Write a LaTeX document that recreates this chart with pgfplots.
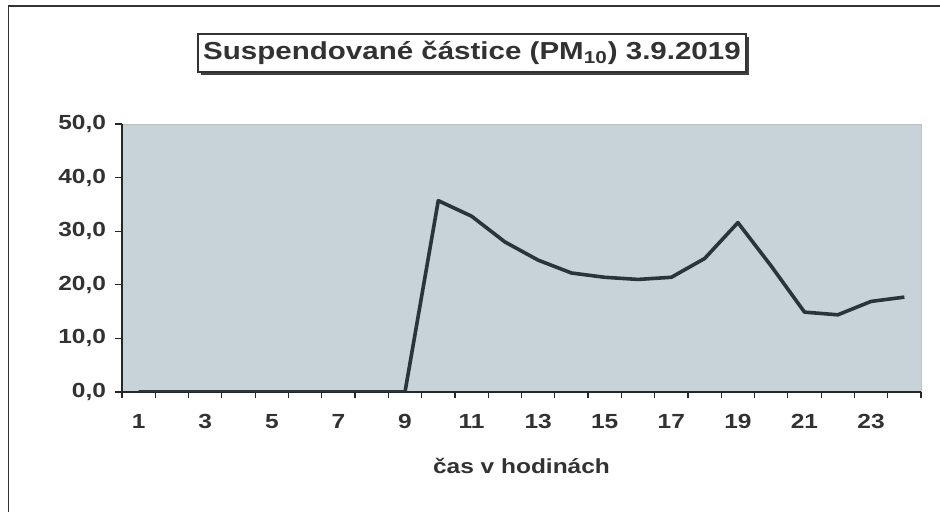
\documentclass[border=0pt]{standalone}
\usepackage{fontspec}
\setmainfont{Liberation Sans}[FakeStretch=1.2]
\usepackage{pgfplots}
\pgfplotsset{compat=1.18}
\usetikzlibrary{shadows}
\definecolor{plotbg}{RGB}{199,211,217}
\definecolor{linec}{RGB}{42,52,58}
\definecolor{txt}{RGB}{50,50,50}
\begin{document}
\begin{tikzpicture}
\useasboundingbox (0,0) rectangle (470pt,256pt);
\fill[white] (0,0) rectangle (470pt,256pt);
\draw[black!80, line width=0.8pt] (4.25pt,0) -- (4.25pt,253pt) -- (470pt,253pt);
\begin{axis}[
  at={(61pt,60pt)}, anchor=south west,
  width=399.5pt, height=134pt, scale only axis,
  xmin=0.5, xmax=24.5, ymin=0, ymax=50,
  axis background/.style={fill=plotbg, draw=black!25, line width=0.4pt},
  axis x line*=bottom, axis y line*=left,
  axis line style={black!85, line width=0.8pt},
  tick align=outside,
  xtick={1,3,...,23},
  major x tick style={draw=none},
  minor xtick={0.5,1.5,...,24.5},
  minor tick length=3pt,
  minor x tick style={black!85, line width=0.6pt},
  ytick={0,10,...,50},
  major tick length=3.5pt,
  major y tick style={black!85, line width=0.6pt},
  /pgf/number format/assume math mode=true,
  yticklabel style={/pgf/number format/fixed, /pgf/number format/fixed zerofill, /pgf/number format/precision=1, /pgf/number format/use comma, xshift=-1pt},
  ticklabel style={font=\fontsize{10.2}{12}\selectfont\bfseries, text=txt},
  xticklabel style={yshift=-4pt},
  xlabel={čas v hodinách},
  xlabel style={at={(axis description cs:0.5,0)}, anchor=center, yshift=-37pt, font=\fontsize{10.2}{12}\selectfont\bfseries, text=txt},
]
\addplot[linec, line width=1.8pt, line join=round, no marks] coordinates {
(1,0) (2,0) (3,0) (4,0) (5,0) (6,0) (7,0) (8,0) (9,0)
(10,35.7) (11,32.8) (12,28.0) (13,24.6) (14,22.2) (15,21.4) (16,21.0)
(17,21.4) (18,24.9) (19,31.6) (20,23.5) (21,14.9) (22,14.4) (23,16.9) (24,17.7)
};
\end{axis}
\node[draw=black!80, line width=0.7pt, fill=white, minimum width=274pt, minimum height=19pt, inner sep=2pt,
  drop shadow={shadow xshift=1.6pt, shadow yshift=-1.6pt, fill=black!75, opacity=1},
  font=\fontsize{12.3}{14}\selectfont\bfseries, text=txt] at (236pt,229.5pt)
  {Suspendované částice (PM\textsubscript{10}) 3.9.2019};
\end{tikzpicture}
\end{document}
